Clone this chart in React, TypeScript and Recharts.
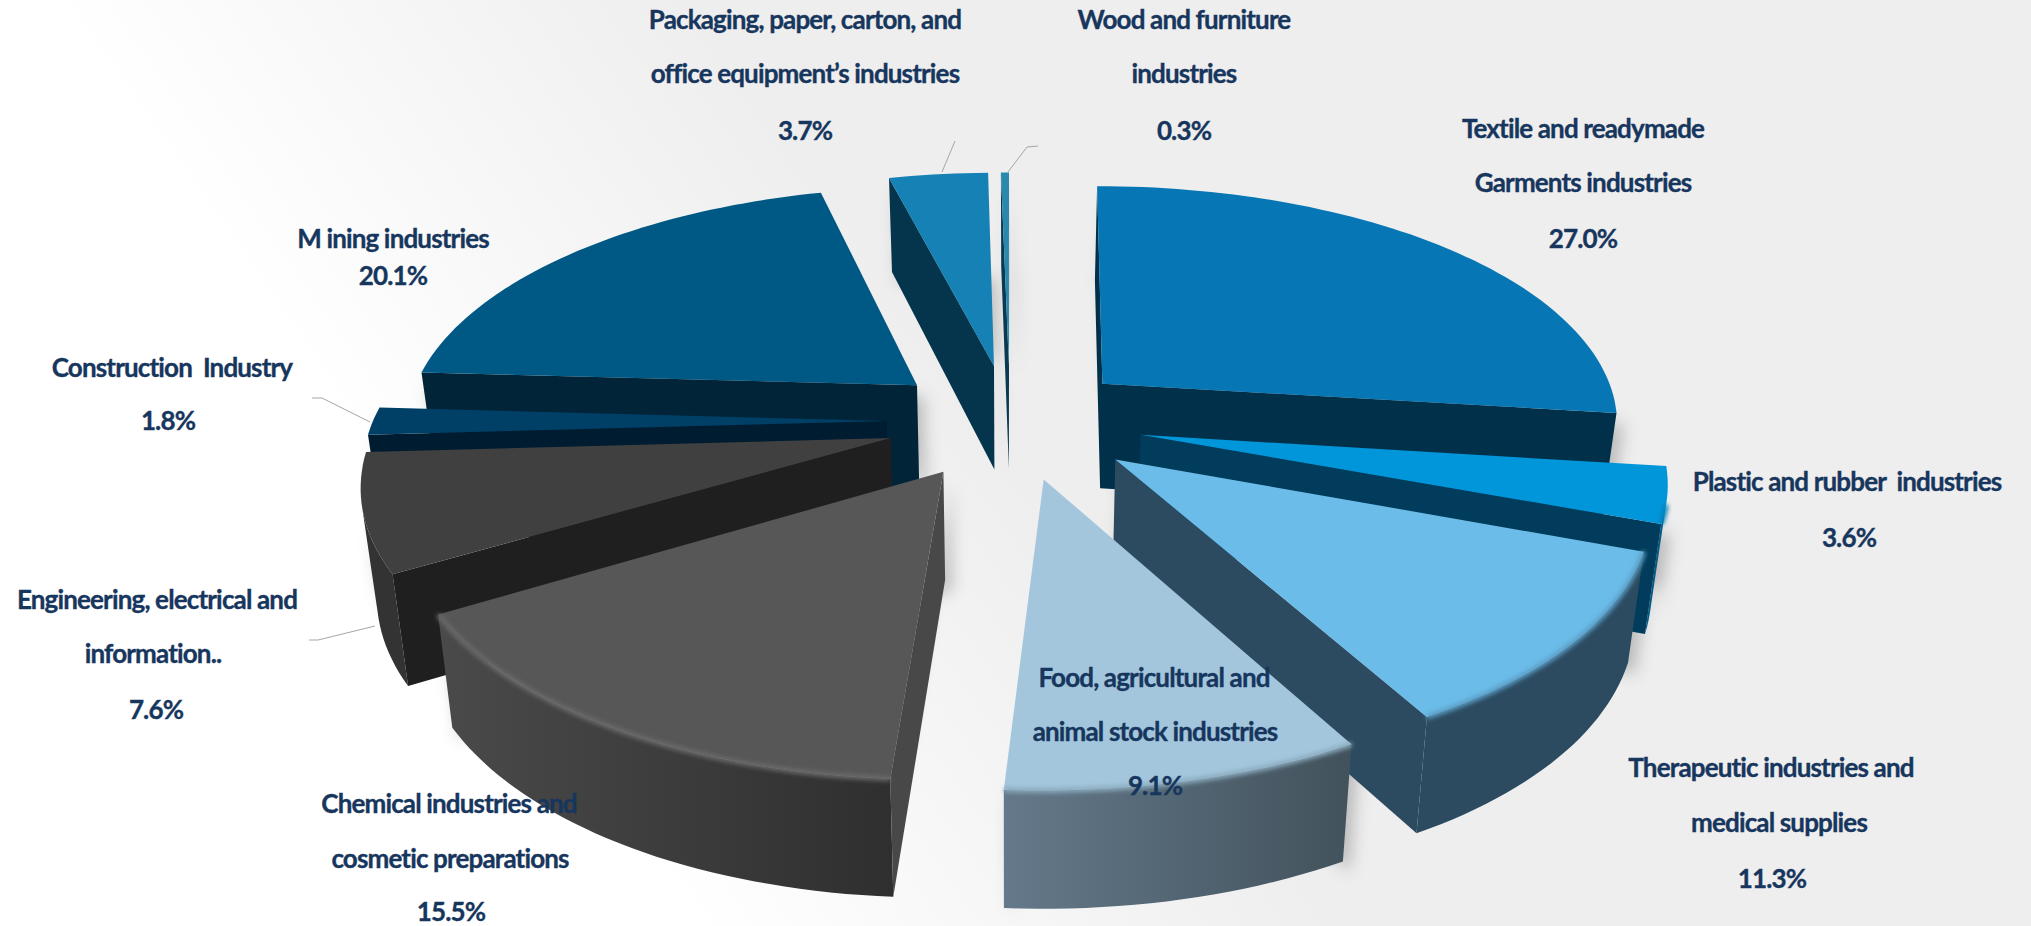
import React from "react";
import { PieChart, Pie } from "recharts";

// Share of industrial activity by sector, in percent.
const categories = [
  "Textile", "Plastic", "Therapeutic", "Food", "Chemical",
  "Engineering", "Construction", "Mining", "Packaging", "Wood",
];
const shares = [27.0, 3.6, 11.3, 9.1, 15.5, 7.6, 1.8, 20.1, 3.7, 0.3];
const labelLines: string[][] = [
  ["Textile and readymade", "Garments industries"],
  ["Plastic and rubber  industries"],
  ["Therapeutic industries and", "medical supplies"],
  ["Food, agricultural and", "animal stock industries"],
  ["Chemical industries and", "cosmetic preparations"],
  ["Engineering, electrical and", "information.."],
  ["Construction  Industry"],
  ["M ining industries"],
  ["Packaging, paper, carton, and", "office equipment\u2019s industries"],
  ["Wood and furniture", "industries"],
];

const chartData = categories.map((name, i) => ({ name, value: shares[i] }));

// Back-to-front drawing order of the exploded slices.
const paintOrder = [
  "Packaging", "Wood", "Mining", "Textile", "Construction",
  "Plastic", "Engineering", "Therapeutic", "Food", "Chemical",
];

type Paint = { top: string; radial: string; arcA: string; arcB: string; bevel?: string; apexShift?: number };
const paints: Record<string, Paint> = {
  Textile: { top: "#0676b5", radial: "#01304a", arcA: "#01304a", arcB: "#01304a", bevel: "#045a8c" },
  Plastic: { top: "#0096d9", radial: "#013c5c", arcA: "#015a85", arcB: "#015a85", bevel: "#0080bb", apexShift: 8 },
  Therapeutic: { top: "#6bbce8", radial: "#2c4b61", arcA: "#2c4b61", arcB: "#2c4b61", bevel: "#5a9cc4", apexShift: 8 },
  Food: { top: "#a3c6dc", radial: "#42525c", arcA: "#64798a", arcB: "#42525c", bevel: "#8aaabd", apexShift: 5 },
  Chemical: { top: "#575757", radial: "#484848", arcA: "#4a4a4a", arcB: "#2f2f2f", bevel: "#6a6a6a" },
  Engineering: { top: "#404040", radial: "#1f1f1f", arcA: "#333333", arcB: "#333333" },
  Construction: { top: "#003f66", radial: "#001c30", arcA: "#001c30", arcB: "#001c30" },
  Mining: { top: "#005885", radial: "#012438", arcA: "#012438", arcB: "#012438" },
  Packaging: { top: "#1681b5", radial: "#05354d", arcA: "#05354d", arcB: "#05354d" },
  Wood: { top: "#2a88ad", radial: "#0a3a52", arcA: "#0a3a52", arcB: "#0a3a52" },
};

type LabelPlace = { x: number[]; y: number[]; leader?: string };
const labelPlaces: Record<string, LabelPlace> = {
  Textile: { x: [1583, 1583, 1583], y: [138, 192, 248] },
  Plastic: { x: [1847, 1849], y: [491, 547] },
  Therapeutic: { x: [1771, 1779, 1772], y: [777, 832, 888] },
  Food: { x: [1154, 1155, 1155], y: [687, 741, 795] },
  Chemical: { x: [449, 450, 451], y: [813, 868, 921] },
  Engineering: { x: [157, 153, 156], y: [609, 663, 719], leader: "309,640 318,640 375,626" },
  Construction: { x: [172, 168], y: [377, 430], leader: "312,398 322,398 370,422" },
  Mining: { x: [393, 393], y: [248, 285] },
  Packaging: { x: [805, 805, 805], y: [29, 83, 140], leader: "955,141 942,172" },
  Wood: { x: [1184, 1184, 1184], y: [29, 83, 140], leader: "1038,146 1027,147 1008,172" },
};

// Projection of the tilted disc: perspective strength, squash and slice offset.
const PERSPECTIVE = 0.16;
const TILT = 0.462;
const EXPLODE = 0.24;
const BOTTOM_SCALE = 0.975;
const LEFT_SCALE = 0.988;
const BACK_SKEW = 7;

type Pt = [number, number];

function sliceGeometry(props: any) {
  const { cx, cy, outerRadius: R, startAngle, endAngle, name } = props;
  const a0 = 90 - startAngle;
  const a1 = 90 - endAngle;
  const mid = ((a0 + a1) / 2) * (Math.PI / 180);
  const eu = EXPLODE * Math.sin(mid);
  const ev = -EXPLODE * Math.cos(mid);

  const top = (u: number, v: number): Pt => {
    const w = 1 / (1 - PERSPECTIVE * v);
    const rawX = R * u * w;
    const x = rawX < 0 ? cx + rawX * LEFT_SCALE : cx + rawX + BACK_SKEW * Math.max(0, -v);
    return [x, cy + R * TILT * v * w];
  };
  const bottom = (u: number, v: number): Pt => {
    const [x, y] = top(u, v);
    return [cx + (x - cx) * BOTTOM_SCALE, y + 106 + 10 * v];
  };

  const disc: [number, number][] = [[eu, ev]];
  const steps = Math.max(2, Math.ceil((a1 - a0) / 1.5));
  for (let i = 0; i <= steps; i++) {
    const a = (a0 + ((a1 - a0) * i) / steps) * (Math.PI / 180);
    disc.push([eu + Math.sin(a), ev - Math.cos(a)]);
  }
  const topPts = disc.map(([u, v]) => top(u, v));
  const botPts = disc.map(([u, v]) => bottom(u, v));
  const shift = paints[name]?.apexShift ?? 0;
  topPts[0][0] += shift;
  botPts[0][0] += shift;
  return { topPts, botPts };
}

const pathOf = (pts: Pt[]) =>
  "M" + pts.map((p) => `${p[0].toFixed(1)},${p[1].toFixed(1)}`).join("L") + "Z";
const openPathOf = (pts: Pt[]) =>
  "M" + pts.map((p) => `${p[0].toFixed(1)},${p[1].toFixed(1)}`).join("L");

const shoelace = (pts: Pt[]) => {
  let s = 0;
  pts.forEach((p, i) => {
    const q = pts[(i + 1) % pts.length];
    s += p[0] * q[1] - q[0] * p[1];
  });
  return s;
};

function Slice3D(props: any) {
  const paint = paints[props.name];
  const { topPts, botPts } = sliceGeometry(props);
  const n = topPts.length;

  let radialPath = "";
  let arcPath = "";
  const rim: Pt[] = [];
  let minX = Infinity;
  let maxX = -Infinity;
  for (let i = 0; i < n; i++) {
    const j = (i + 1) % n;
    const quad: Pt[] = [topPts[i], topPts[j], botPts[j], botPts[i]];
    if (shoelace(quad) >= 0) continue;
    if (i === 0 || j === 0) {
      radialPath += pathOf(quad);
    } else {
      arcPath += pathOf(quad);
      if (rim.length === 0) rim.push(topPts[i]);
      rim.push(topPts[j]);
      quad.forEach((p) => {
        minX = Math.min(minX, p[0]);
        maxX = Math.max(maxX, p[0]);
      });
    }
  }
  const gradId = `rim-${props.name}`;

  return (
    <g>
      <defs>
        <linearGradient id={gradId} gradientUnits="userSpaceOnUse" x1={minX} x2={maxX} y1={0} y2={0}>
          <stop offset="0%" stopColor={paint.arcA} />
          <stop offset="100%" stopColor={paint.arcB} />
        </linearGradient>
      </defs>
      {arcPath && <path d={arcPath} fill={`url(#${gradId})`} />}
      {radialPath && <path d={radialPath} fill={paint.radial} />}
      <path d={pathOf(topPts)} fill={paint.top} />
      {paint.bevel && rim.length > 1 && (
        <path d={openPathOf(rim)} fill="none" stroke={paint.bevel} strokeWidth={5} filter="url(#rimSoften)" />
      )}
    </g>
  );
}

// Blurred silhouette of one slice, cast on the page behind everything.
function SliceShadow(props: any) {
  const { topPts, botPts } = sliceGeometry(props);
  let d = pathOf(topPts) + pathOf(botPts);
  topPts.forEach((p, i) => {
    const j = (i + 1) % topPts.length;
    const quad: Pt[] = [p, topPts[j], botPts[j], botPts[i]];
    d += pathOf(shoelace(quad) < 0 ? quad : [...quad].reverse());
  });
  return <path d={d} fill="#000" fillOpacity={0.22} fillRule="nonzero" transform="translate(7,11)" />;
}

function sliceLabel(props: any) {
  const name = props.name;
  const place = labelPlaces[name];
  const lines = [...labelLines[categories.indexOf(name)], `${props.value.toFixed(1)}%`];
  return (
    <g key={name}>
      {place.leader && <polyline points={place.leader} fill="none" stroke="#a6a6a6" strokeWidth={1} />}
      {lines.map((line, i) => (
        <text
          key={i}
          x={place.x[i]}
          y={place.y[i]}
          textAnchor="middle"
          xmlSpace="preserve"
          fontFamily="Lato, sans-serif"
          fontWeight={700}
          fontSize={26}
          letterSpacing={-0.85}
          stroke="#17365d"
          strokeWidth={0.35}
          fill="#17365d"
        >
          {line}
        </text>
      ))}
    </g>
  );
}

const pieCommon = {
  data: chartData,
  dataKey: "value",
  nameKey: "name",
  cx: 1010,
  cy: 421,
  innerRadius: 0,
  outerRadius: 520,
  startAngle: 90,
  endAngle: -270,
  stroke: "none",
  isAnimationActive: false,
  rootTabIndex: -1,
};

export default function App() {
  return (
    <div
      style={{
        position: "absolute",
        left: 0,
        top: 0,
        width: 2031,
        height: 926,
        overflow: "hidden",
        background: "linear-gradient(55deg, #ffffff 26%, #eeeeee 50%)",
      }}
    >
      <PieChart width={2031} height={926} margin={{ top: 0, right: 0, bottom: 0, left: 0 }}>
        <defs>
          <filter id="castShadow" filterUnits="userSpaceOnUse" x={0} y={0} width={2031} height={926}>
            <feGaussianBlur stdDeviation={8} />
          </filter>
          <filter id="rimSoften" filterUnits="userSpaceOnUse" x={0} y={0} width={2031} height={926}>
            <feGaussianBlur stdDeviation={2} />
          </filter>
        </defs>
        <Pie
          {...pieCommon}
          key="shadows"
          label={false}
          shape={(p: any) => (
            <g filter="url(#castShadow)">
              <SliceShadow {...p} />
            </g>
          )}
        />
        {paintOrder.map((layer) => (
          <Pie
            {...pieCommon}
            key={layer}
            label={false}
            shape={(p: any) => (p.name === layer ? <Slice3D {...p} /> : <g />)}
          />
        ))}
        <Pie {...pieCommon} key="labels" label={sliceLabel} labelLine={false} shape={() => <g />} />
      </PieChart>
    </div>
  );
}
